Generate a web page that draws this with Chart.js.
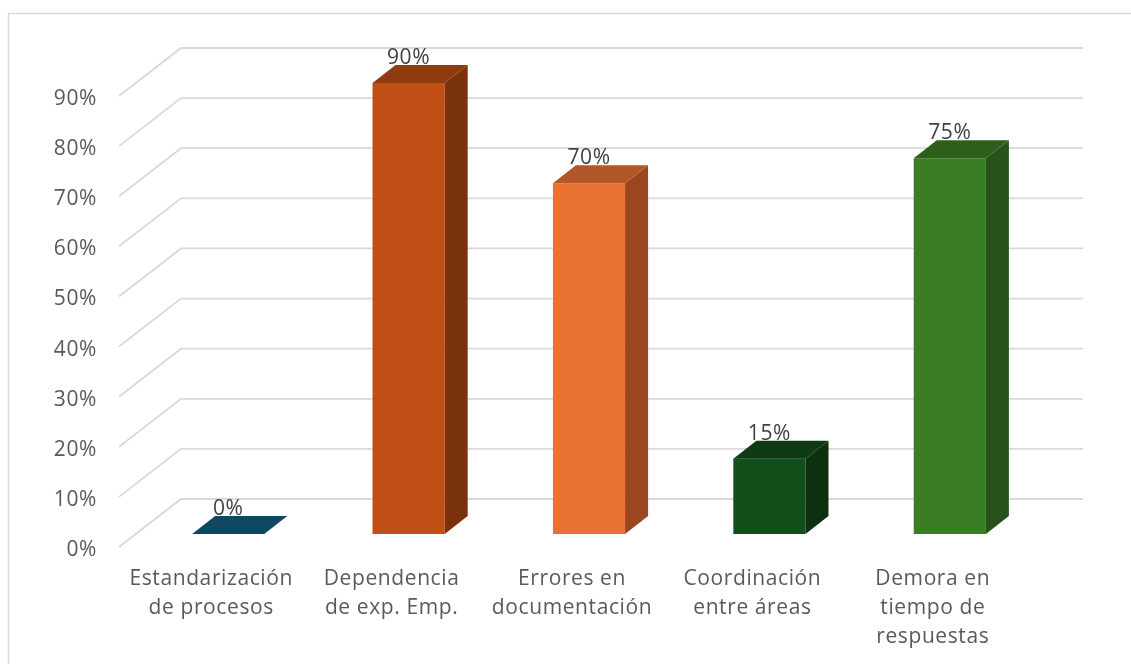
<!DOCTYPE html>
<html>
<head>
<meta charset="utf-8">
<script src="https://cdn.jsdelivr.net/npm/chart.js@4"></script>
<style>
html,body{margin:0;padding:0;background:#fff;}
#wrap{position:relative;width:1131px;height:664px;}
</style>
</head>
<body>
<div id="wrap"><canvas id="c" width="1131" height="664"></canvas></div>
<script>
const categories = [
  ["Estandarización", "de procesos"],
  ["Dependencia", "de exp. Emp."],
  ["Errores en", "documentación"],
  ["Coordinación", "entre áreas"],
  ["Demora en", "tiempo de", "respuestas"]
];
const values = [0, 90, 70, 15, 75];
const yTicks = [0, 10, 20, 30, 40, 50, 60, 70, 80, 90];

const frontColors = ["#104862", "#C04F15", "#E97132", "#124F1A", "#3B7D23"];
const topColors   = ["#104862", "#8F3B10", "#B15727", "#0E3B14", "#2D5F1B"];
const sideColors  = ["#0C3448", "#7A310D", "#9A4620", "#0B3110", "#27521A"];

const FONT = "'Open Sans', sans-serif";
const FSIZE = 21;
const SPACING = '0.6px';
const DX = 23, DY = -18;            // bar depth
const BACK_DX = 43, BACK_DY = -35;  // back wall offset from bar plane
const FRONT_DX = -19, FRONT_DY = 13; // front wall offset from bar plane

const wall3d = {
  id: 'wall3d',
  beforeDraw(chart) {
    const ctx = chart.ctx;
    ctx.letterSpacing = SPACING;
    ctx.save();
    ctx.strokeStyle = '#d9d9d9';
    ctx.lineWidth = 1.5;
    ctx.strokeRect(8.5, 13.5, 1200, 800);
    ctx.restore();
  },
  beforeDatasetsDraw(chart) {
    const ctx = chart.ctx;
    const y = chart.scales.y;
    const area = chart.chartArea;
    ctx.save();
    ctx.strokeStyle = '#d9d9d9';
    ctx.lineWidth = 1.8;
    yTicks.forEach(v => {
      const py = y.getPixelForValue(v);
      ctx.beginPath();
      ctx.moveTo(area.left + FRONT_DX, py + FRONT_DY);
      ctx.lineTo(area.left + BACK_DX, py + BACK_DY);
      ctx.lineTo(area.right + BACK_DX, py + BACK_DY);
      ctx.stroke();
    });
    ctx.restore();
  },
  afterDatasetsDraw(chart) {
    const ctx = chart.ctx;
    const meta = chart.getDatasetMeta(0);
    ctx.save();
    meta.data.forEach((bar, i) => {
      const p = bar.getProps(['x', 'y', 'base', 'width'], true);
      const x0 = p.x - p.width / 2, x1 = p.x + p.width / 2;
      if (p.base - p.y > 0.5) {
        ctx.fillStyle = sideColors[i];
        ctx.beginPath();
        ctx.moveTo(x1, p.y);
        ctx.lineTo(x1 + DX, p.y + DY);
        ctx.lineTo(x1 + DX, p.base + DY);
        ctx.lineTo(x1, p.base);
        ctx.closePath();
        ctx.fill();
      }
      ctx.fillStyle = topColors[i];
      ctx.beginPath();
      ctx.moveTo(x0, p.y);
      ctx.lineTo(x1, p.y);
      ctx.lineTo(x1 + DX, p.y + DY);
      ctx.lineTo(x0 + DX, p.y + DY);
      ctx.closePath();
      ctx.fill();
    });
    ctx.fillStyle = '#404040';
    ctx.font = FSIZE + "px " + FONT;
    ctx.textAlign = 'center';
    ctx.textBaseline = 'alphabetic';
    meta.data.forEach((bar, i) => {
      const p = bar.getProps(['x', 'y'], true);
      ctx.fillText(values[i] + '%', p.x, p.y + DY - 1);
    });
    ctx.restore();
  }
};

new Chart(document.getElementById('c'), {
  type: 'bar',
  data: {
    labels: categories,
    datasets: [{
      data: values,
      backgroundColor: frontColors,
      borderWidth: 0,
      categoryPercentage: 0.8,
      barPercentage: 0.5
    }]
  },
  options: {
    responsive: false,
    animation: false,
    layout: { padding: { left: 0, top: 83, right: 91, bottom: 0 } },
    plugins: { legend: { display: false }, tooltip: { enabled: false } },
    scales: {
      x: {
        grid: { display: false, drawTicks: false },
        border: { display: false },
        afterFit: s => { s.height = 130; },
        ticks: {
          color: '#595959',
          font: { family: FONT, size: FSIZE, lineHeight: 1.4 },
          padding: 30,
          labelOffset: -17,
          maxRotation: 0,
          autoSkip: false
        }
      },
      y: {
        min: 0, max: 90,
        grid: { display: false, drawTicks: false },
        border: { display: false },
        afterFit: s => { s.width = 138; },
        afterBuildTicks: s => { s.ticks = yTicks.map(v => ({ value: v })); },
        ticks: {
          color: '#595959',
          font: { family: FONT, size: FSIZE },
          padding: 41,
          labelOffset: 16,
          callback: v => v + '%'
        }
      }
    }
  },
  plugins: [wall3d]
});
</script>
</body>
</html>
